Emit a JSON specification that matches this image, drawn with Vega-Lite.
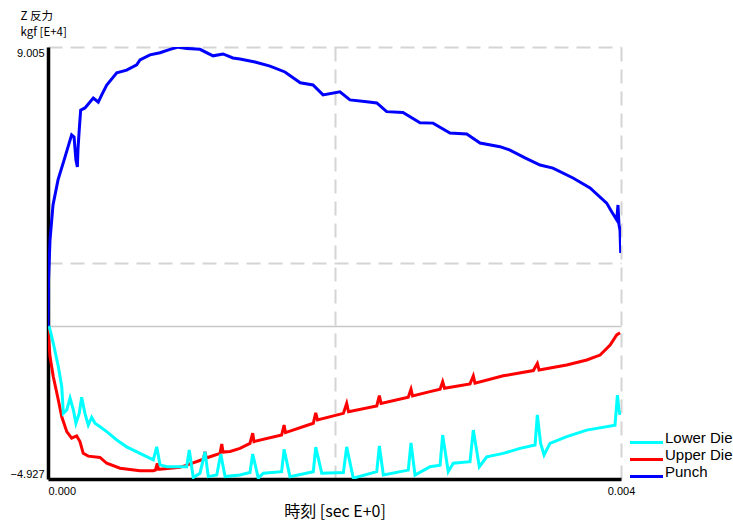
{
  "$schema": "https://vega.github.io/schema/vega-lite/v6.json",
  "width": 573,
  "height": 432,
  "autosize": {"type": "none"},
  "padding": {"left": 48, "top": 47, "right": 112, "bottom": 41},
  "background": "white",
  "config": {"view": {"stroke": null}},
  "data": {"values": [
    {"s":"Upper Die","t":0,"v":-0.1},
    {"s":"Upper Die","t":0.000014,"v":-0.98},
    {"s":"Upper Die","t":0.000037,"v":-1.63},
    {"s":"Upper Die","t":0.000072,"v":-2.38},
    {"s":"Upper Die","t":0.000096,"v":-2.92},
    {"s":"Upper Die","t":0.000131,"v":-3.40},
    {"s":"Upper Die","t":0.000165,"v":-3.61},
    {"s":"Upper Die","t":0.0002,"v":-3.54},
    {"s":"Upper Die","t":0.000223,"v":-3.72},
    {"s":"Upper Die","t":0.000246,"v":-4.10},
    {"s":"Upper Die","t":0.000281,"v":-4.19},
    {"s":"Upper Die","t":0.000363,"v":-4.23},
    {"s":"Upper Die","t":0.00041,"v":-4.42},
    {"s":"Upper Die","t":0.000503,"v":-4.58},
    {"s":"Upper Die","t":0.000642,"v":-4.66},
    {"s":"Upper Die","t":0.000735,"v":-4.66},
    {"s":"Upper Die","t":0.00075,"v":-4.64},
    {"s":"Upper Die","t":0.000763,"v":-4.42},
    {"s":"Upper Die","t":0.000771,"v":-4.61},
    {"s":"Upper Die","t":0.000782,"v":-4.61},
    {"s":"Upper Die","t":0.000921,"v":-4.55},
    {"s":"Upper Die","t":0.000968,"v":-4.48},
    {"s":"Upper Die","t":0.001084,"v":-4.29},
    {"s":"Upper Die","t":0.001096,"v":-4.05},
    {"s":"Upper Die","t":0.001106,"v":-4.25},
    {"s":"Upper Die","t":0.001131,"v":-4.21},
    {"s":"Upper Die","t":0.001201,"v":-4.10},
    {"s":"Upper Die","t":0.001213,"v":-3.80},
    {"s":"Upper Die","t":0.001222,"v":-4.06},
    {"s":"Upper Die","t":0.001271,"v":-4.04},
    {"s":"Upper Die","t":0.00134,"v":-3.94},
    {"s":"Upper Die","t":0.00141,"v":-3.78},
    {"s":"Upper Die","t":0.001429,"v":-3.45},
    {"s":"Upper Die","t":0.001438,"v":-3.72},
    {"s":"Upper Die","t":0.001631,"v":-3.51},
    {"s":"Upper Die","t":0.001648,"v":-3.19},
    {"s":"Upper Die","t":0.001658,"v":-3.43},
    {"s":"Upper Die","t":0.001852,"v":-3.13},
    {"s":"Upper Die","t":0.001869,"v":-2.79},
    {"s":"Upper Die","t":0.001881,"v":-3.02},
    {"s":"Upper Die","t":0.002062,"v":-2.81},
    {"s":"Upper Die","t":0.002085,"v":-2.49},
    {"s":"Upper Die","t":0.002098,"v":-2.76},
    {"s":"Upper Die","t":0.002295,"v":-2.57},
    {"s":"Upper Die","t":0.002313,"v":-2.24},
    {"s":"Upper Die","t":0.002325,"v":-2.49},
    {"s":"Upper Die","t":0.002515,"v":-2.29},
    {"s":"Upper Die","t":0.002534,"v":-2.03},
    {"s":"Upper Die","t":0.002545,"v":-2.25},
    {"s":"Upper Die","t":0.002667,"v":-2.11},
    {"s":"Upper Die","t":0.002737,"v":-2.03},
    {"s":"Upper Die","t":0.002755,"v":-1.79},
    {"s":"Upper Die","t":0.002768,"v":-2.00},
    {"s":"Upper Die","t":0.002946,"v":-1.86},
    {"s":"Upper Die","t":0.002969,"v":-1.60},
    {"s":"Upper Die","t":0.002981,"v":-1.84},
    {"s":"Upper Die","t":0.003178,"v":-1.60},
    {"s":"Upper Die","t":0.003388,"v":-1.43},
    {"s":"Upper Die","t":0.003416,"v":-1.20},
    {"s":"Upper Die","t":0.003428,"v":-1.41},
    {"s":"Upper Die","t":0.003621,"v":-1.25},
    {"s":"Upper Die","t":0.003761,"v":-1.09},
    {"s":"Upper Die","t":0.003854,"v":-0.93},
    {"s":"Upper Die","t":0.003924,"v":-0.61},
    {"s":"Upper Die","t":0.00397,"v":-0.28},
    {"s":"Upper Die","t":0.003993,"v":-0.21},

    {"s":"Lower Die","t":0,"v":0},
    {"s":"Lower Die","t":0.000009,"v":-0.02},
    {"s":"Lower Die","t":0.000037,"v":-0.55},
    {"s":"Lower Die","t":0.000072,"v":-1.30},
    {"s":"Lower Die","t":0.000096,"v":-1.95},
    {"s":"Lower Die","t":0.000107,"v":-2.81},
    {"s":"Lower Die","t":0.000131,"v":-2.70},
    {"s":"Lower Die","t":0.000154,"v":-2.32},
    {"s":"Lower Die","t":0.000177,"v":-2.70},
    {"s":"Lower Die","t":0.000195,"v":-3.13},
    {"s":"Lower Die","t":0.000218,"v":-2.81},
    {"s":"Lower Die","t":0.000235,"v":-2.29},
    {"s":"Lower Die","t":0.000258,"v":-2.81},
    {"s":"Lower Die","t":0.000281,"v":-3.19},
    {"s":"Lower Die","t":0.000305,"v":-2.94},
    {"s":"Lower Die","t":0.000328,"v":-3.13},
    {"s":"Lower Die","t":0.000363,"v":-3.24},
    {"s":"Lower Die","t":0.00041,"v":-3.40},
    {"s":"Lower Die","t":0.00048,"v":-3.67},
    {"s":"Lower Die","t":0.000549,"v":-3.89},
    {"s":"Lower Die","t":0.000642,"v":-4.10},
    {"s":"Lower Die","t":0.000735,"v":-4.31},
    {"s":"Lower Die","t":0.000759,"v":-3.89},
    {"s":"Lower Die","t":0.000782,"v":-4.47},
    {"s":"Lower Die","t":0.000829,"v":-4.53},
    {"s":"Lower Die","t":0.000921,"v":-4.53},
    {"s":"Lower Die","t":0.000968,"v":-4.53},
    {"s":"Lower Die","t":0.000986,"v":-3.99},
    {"s":"Lower Die","t":0.001014,"v":-4.88},
    {"s":"Lower Die","t":0.001061,"v":-4.74},
    {"s":"Lower Die","t":0.001096,"v":-4.05},
    {"s":"Lower Die","t":0.001119,"v":-4.85},
    {"s":"Lower Die","t":0.001178,"v":-4.80},
    {"s":"Lower Die","t":0.001206,"v":-4.12},
    {"s":"Lower Die","t":0.001236,"v":-4.85},
    {"s":"Lower Die","t":0.00134,"v":-4.80},
    {"s":"Lower Die","t":0.00141,"v":-4.72},
    {"s":"Lower Die","t":0.001429,"v":-4.12},
    {"s":"Lower Die","t":0.001468,"v":-4.90},
    {"s":"Lower Die","t":0.001503,"v":-4.74},
    {"s":"Lower Die","t":0.001631,"v":-4.69},
    {"s":"Lower Die","t":0.001648,"v":-3.97},
    {"s":"Lower Die","t":0.001689,"v":-4.85},
    {"s":"Lower Die","t":0.001852,"v":-4.69},
    {"s":"Lower Die","t":0.001869,"v":-3.90},
    {"s":"Lower Die","t":0.001911,"v":-4.74},
    {"s":"Lower Die","t":0.002062,"v":-4.72},
    {"s":"Lower Die","t":0.002085,"v":-3.89},
    {"s":"Lower Die","t":0.002131,"v":-4.90},
    {"s":"Lower Die","t":0.002295,"v":-4.69},
    {"s":"Lower Die","t":0.002313,"v":-3.86},
    {"s":"Lower Die","t":0.002341,"v":-4.80},
    {"s":"Lower Die","t":0.002515,"v":-4.64},
    {"s":"Lower Die","t":0.002534,"v":-3.76},
    {"s":"Lower Die","t":0.002562,"v":-4.80},
    {"s":"Lower Die","t":0.002667,"v":-4.53},
    {"s":"Lower Die","t":0.002737,"v":-4.48},
    {"s":"Lower Die","t":0.002755,"v":-3.51},
    {"s":"Lower Die","t":0.002794,"v":-4.69},
    {"s":"Lower Die","t":0.002829,"v":-4.42},
    {"s":"Lower Die","t":0.002946,"v":-4.37},
    {"s":"Lower Die","t":0.002969,"v":-3.35},
    {"s":"Lower Die","t":0.003011,"v":-4.53},
    {"s":"Lower Die","t":0.003063,"v":-4.21},
    {"s":"Lower Die","t":0.003178,"v":-4.10},
    {"s":"Lower Die","t":0.003295,"v":-3.94},
    {"s":"Lower Die","t":0.0034,"v":-3.83},
    {"s":"Lower Die","t":0.003416,"v":-2.86},
    {"s":"Lower Die","t":0.003439,"v":-3.78},
    {"s":"Lower Die","t":0.003463,"v":-4.15},
    {"s":"Lower Die","t":0.003504,"v":-3.78},
    {"s":"Lower Die","t":0.003621,"v":-3.56},
    {"s":"Lower Die","t":0.003761,"v":-3.35},
    {"s":"Lower Die","t":0.003958,"v":-3.19},
    {"s":"Lower Die","t":0.003975,"v":-2.22},
    {"s":"Lower Die","t":0.003986,"v":-2.70},
    {"s":"Lower Die","t":0.003993,"v":-2.86},

    {"s":"Punch","t":0,"v":0},
    {"s":"Punch","t":0.0000035,"v":1.49},
    {"s":"Punch","t":0.000014,"v":2.78},
    {"s":"Punch","t":0.000035,"v":3.91},
    {"s":"Punch","t":0.00007,"v":4.72},
    {"s":"Punch","t":0.000119,"v":5.46},
    {"s":"Punch","t":0.000165,"v":6.17},
    {"s":"Punch","t":0.000182,"v":6.10},
    {"s":"Punch","t":0.000195,"v":5.36},
    {"s":"Punch","t":0.000205,"v":5.14},
    {"s":"Punch","t":0.000209,"v":5.68},
    {"s":"Punch","t":0.000218,"v":6.33},
    {"s":"Punch","t":0.000228,"v":6.97},
    {"s":"Punch","t":0.000258,"v":7.04},
    {"s":"Punch","t":0.000293,"v":7.23},
    {"s":"Punch","t":0.000316,"v":7.36},
    {"s":"Punch","t":0.000351,"v":7.23},
    {"s":"Punch","t":0.000375,"v":7.46},
    {"s":"Punch","t":0.00041,"v":7.78},
    {"s":"Punch","t":0.00048,"v":8.17},
    {"s":"Punch","t":0.000549,"v":8.26},
    {"s":"Punch","t":0.000619,"v":8.43},
    {"s":"Punch","t":0.000642,"v":8.59},
    {"s":"Punch","t":0.000712,"v":8.75},
    {"s":"Punch","t":0.000782,"v":8.82},
    {"s":"Punch","t":0.000852,"v":8.93},
    {"s":"Punch","t":0.00091,"v":9.0},
    {"s":"Punch","t":0.000968,"v":8.96},
    {"s":"Punch","t":0.001061,"v":8.93},
    {"s":"Punch","t":0.001152,"v":8.72},
    {"s":"Punch","t":0.001222,"v":8.78},
    {"s":"Punch","t":0.001291,"v":8.65},
    {"s":"Punch","t":0.00134,"v":8.62},
    {"s":"Punch","t":0.001445,"v":8.52},
    {"s":"Punch","t":0.00155,"v":8.39},
    {"s":"Punch","t":0.001654,"v":8.20},
    {"s":"Punch","t":0.001761,"v":7.85},
    {"s":"Punch","t":0.00185,"v":7.78},
    {"s":"Punch","t":0.00192,"v":7.46},
    {"s":"Punch","t":0.002038,"v":7.56},
    {"s":"Punch","t":0.002108,"v":7.30},
    {"s":"Punch","t":0.002225,"v":7.24},
    {"s":"Punch","t":0.002295,"v":7.20},
    {"s":"Punch","t":0.002364,"v":6.92},
    {"s":"Punch","t":0.002478,"v":6.89},
    {"s":"Punch","t":0.002597,"v":6.56},
    {"s":"Punch","t":0.002688,"v":6.55},
    {"s":"Punch","t":0.002806,"v":6.23},
    {"s":"Punch","t":0.002923,"v":6.20},
    {"s":"Punch","t":0.003016,"v":5.91},
    {"s":"Punch","t":0.003155,"v":5.79},
    {"s":"Punch","t":0.003225,"v":5.68},
    {"s":"Punch","t":0.00333,"v":5.43},
    {"s":"Punch","t":0.003435,"v":5.20},
    {"s":"Punch","t":0.003525,"v":5.10},
    {"s":"Punch","t":0.003665,"v":4.78},
    {"s":"Punch","t":0.003784,"v":4.46},
    {"s":"Punch","t":0.0039,"v":3.97},
    {"s":"Punch","t":0.003935,"v":3.69},
    {"s":"Punch","t":0.00397,"v":3.43},
    {"s":"Punch","t":0.003979,"v":3.91},
    {"s":"Punch","t":0.003986,"v":3.27},
    {"s":"Punch","t":0.003993,"v":3.10},
    {"s":"Punch","t":0.003998,"v":2.36},
    {"s":"Punch","t":0.004,"v":2.78}
  ]},
  "mark": {"type": "line", "strokeWidth": 3, "clip": true},
  "encoding": {
    "x": {
      "field": "t", "type": "quantitative",
      "scale": {"domain": [0, 0.004], "nice": false, "zero": false},
      "axis": {
        "values": [0, 0.002, 0.004],
        "labelExpr": "datum.value == 0.002 ? '' : format(datum.value, '.3f')",
        "labelFlush": false,
        "labelAlign": {"condition": {"test": "datum.value == 0", "value": "left"}, "value": "center"},
        "labelBaseline": "top",
        "labelPadding": 6,
        "labelFont": "Liberation Sans",
        "labelFontSize": 11,
        "labelColor": "#000000",
        "ticks": false,
        "domainColor": "#000000",
        "domainWidth": 3.5,
        "grid": true,
        "gridColor": "#d4d4d4",
        "gridWidth": 2,
        "gridDash": [14, 8],
        "title": "時刻   [sec E+0]",
        "titleFont": "Noto Sans CJK JP",
        "titleFontSize": 16,
        "titleFontWeight": "normal",
        "titleColor": "#000000",
        "titleY": 37,
        "titleBaseline": "alphabetic"
      }
    },
    "y": {
      "field": "v", "type": "quantitative",
      "scale": {"domain": [-4.927, 9.005], "nice": false, "zero": false},
      "axis": {
        "values": [-4.927, 0, 2.039, 9.005],
        "labelExpr": "(datum.value > 8 || datum.value < -4) ? format(datum.value, '.3f') : ''",
        "labelFlush": false,
        "labelBaseline": {"condition": {"test": "datum.value > 8", "value": "top"}, "value": "bottom"},
        "labelPadding": 4,
        "labelFont": "Liberation Sans",
        "labelFontSize": 11,
        "labelColor": "#000000",
        "ticks": false,
        "domainColor": "#000000",
        "domainWidth": 3.5,
        "grid": true,
        "gridColor": {"condition": {"test": "datum.value == 0", "value": "#c8c8c8"}, "value": "#d4d4d4"},
        "gridWidth": {"condition": {"test": "datum.value == 0", "value": 1.5}, "value": 2},
        "gridDash": {"condition": {"test": "datum.value == 0", "value": [1, 0]}, "value": [14, 8]},
        "title": ["Z 反力", "kgf [E+4]"],
        "titleFont": "Noto Sans CJK JP",
        "titleFontSize": 11.5,
        "titleFontWeight": "normal",
        "titleColor": "#000000",
        "titleAngle": 0,
        "titleAlign": "left",
        "titleBaseline": "top",
        "titleLineHeight": 16,
        "titleX": -28,
        "titleY": -37
      }
    },
    "color": {
      "field": "s", "type": "nominal",
      "scale": {"domain": ["Lower Die", "Upper Die", "Punch"], "range": ["#00FFFF", "#FF0000", "#0000FF"]},
      "legend": {
        "title": null,
        "orient": "none",
        "legendX": 591,
        "legendY": 388,
        "padding": 0,
        "symbolType": "M-3,0H3",
        "symbolSize": 121,
        "symbolStrokeWidth": 3,
        "labelOffset": 11,
        "labelFont": "Liberation Sans",
        "labelFontSize": 15,
        "labelColor": "#000000",
        "labelBaseline": "alphabetic",
        "rowPadding": -2
      }
    }
  }
}
